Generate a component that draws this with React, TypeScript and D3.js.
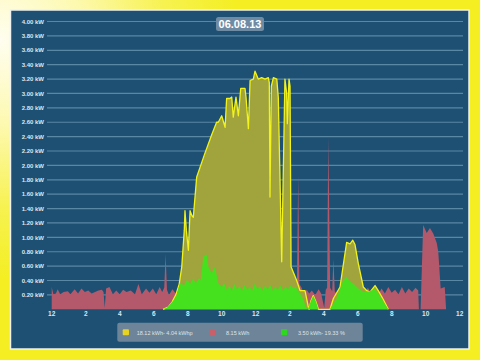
import * as d3 from "d3";
import { useEffect, useRef } from "react";

type Pt = [number, number]; // [hour of day, kW]

const Y_TICKS = [0.2, 0.4, 0.6, 0.8, 1.0, 1.2, 1.4, 1.6, 1.8, 2.0, 2.2, 2.4, 2.6, 2.8, 3.0, 3.2, 3.4, 3.6, 3.8, 4.0];
const X_TICKS = [0, 2, 4, 6, 8, 10, 12, 14, 16, 18, 20, 22, 24];
const X_LABELS = ["12", "2", "4", "6", "8", "10", "12", "2", "4", "6", "8", "10", "12"];

const TITLE = "06.08.13";

// consumption
const consumption: Pt[] = [
  [0, 0.31], [0.1, 0.21], [0.25, 0.22], [0.35, 0.28], [0.5, 0.21], [0.7, 0.24], [0.95, 0.25],
  [1.1, 0.21], [1.35, 0.28], [1.55, 0.22], [1.75, 0.29], [1.95, 0.24], [2.15, 0.26], [2.35, 0.22],
  [2.55, 0.24], [2.75, 0.26], [2.95, 0.27], [3.05, 0.24], [3.12, 0.02], [3.2, 0.29], [3.4, 0.31],
  [3.6, 0.21], [3.8, 0.26], [4.0, 0.21], [4.2, 0.27], [4.4, 0.24], [4.65, 0.26], [4.9, 0.21],
  [5.1, 0.35], [5.3, 0.21], [5.55, 0.29], [5.75, 0.23], [5.95, 0.29], [6.15, 0.21], [6.35, 0.31],
  [6.5, 0.24], [6.62, 0.3], [6.7, 0.77], [6.78, 0.27], [6.9, 0.2], [7.1, 0.28], [7.3, 0.22],
  [7.5, 0.27], [7.7, 0.24], [8.5, 0.26], [10, 0.25], [12, 0.26], [14.3, 0.25], [14.42, 0.3],
  [14.5, 1.86], [14.57, 0.35], [14.7, 0.3], [14.85, 0.2], [15.0, 0.27], [15.15, 0.22], [15.3, 0.26],
  [15.5, 0.2], [15.7, 0.28], [15.85, 0.22], [16.03, 0.02], [16.12, 0.27], [16.2, 0.3], [16.27, 2.39],
  [16.38, 0.3], [16.5, 0.25], [16.57, 0.7], [16.65, 0.25], [16.8, 0.2], [17.0, 0.27], [17.2, 0.22],
  [17.4, 0.28], [17.6, 0.21], [17.8, 0.26], [18.0, 0.2], [18.2, 0.27], [18.4, 0.23], [18.6, 0.3],
  [18.8, 0.22], [19.0, 0.26], [19.2, 0.2], [19.4, 0.29], [19.6, 0.22], [19.8, 0.31], [20.0, 0.23],
  [20.2, 0.27], [20.4, 0.21], [20.6, 0.31], [20.8, 0.22], [21.0, 0.29], [21.2, 0.24], [21.4, 0.3],
  [21.56, 0.26], [21.6, 0], [21.7, 0], [21.85, 1.17], [22.06, 1.06], [22.25, 1.13], [22.45, 1.05],
  [22.65, 0.92], [22.74, 0.8], [22.88, 0.29], [23.0, 0.3], [23.12, 0.31], [23.2, 0], [24, 0],
];

// production
const production: Pt[] = [
  [6.55, 0], [6.85, 0.03], [7.08, 0.1], [7.3, 0.2], [7.5, 0.35], [7.65, 0.59], [7.8, 1.1],
  [7.84, 1.37], [7.92, 1.1], [8.04, 0.82], [8.1, 1.15], [8.14, 1.37], [8.25, 1.3], [8.33, 1.28],
  [8.53, 1.84], [9.0, 2.16], [9.4, 2.42], [9.7, 2.6], [9.8, 2.6], [10.0, 2.69], [10.2, 2.53],
  [10.29, 2.93], [10.49, 2.93], [10.59, 2.95], [10.68, 2.67], [10.84, 2.95], [10.98, 2.69],
  [11.12, 3.07], [11.37, 3.07], [11.43, 2.95], [11.57, 2.51], [11.67, 3.18], [11.86, 3.2],
  [11.96, 3.31], [12.15, 3.2], [12.35, 3.22], [12.55, 3.2], [12.74, 3.22], [12.8, 3.15],
  [12.84, 1.56], [12.92, 3.1], [13.04, 3.22], [13.24, 3.2], [13.33, 2.94], [13.53, 0.66],
  [13.72, 3.2], [13.82, 3.0], [13.86, 2.58], [13.96, 3.2], [14.02, 3.1], [14.08, 0.59],
  [14.41, 0.4], [14.61, 0.26], [14.9, 0.26], [15.08, 0.05], [15.14, 0], [15.25, 0.12],
  [15.39, 0.19], [15.55, 0.1], [15.69, 0], [16.37, 0], [16.57, 0.15], [16.96, 0.31],
  [17.35, 0.93], [17.55, 0.91], [17.71, 0.96], [17.84, 0.9], [18.04, 0.63], [18.33, 0.31],
  [18.53, 0.26], [18.72, 0.24], [19.02, 0.33], [19.21, 0.26], [19.5, 0.14], [19.8, 0],
];

// self-consumption
const selfUse: Pt[] = [
  [6.55, 0], [6.78, 0.02], [7.15, 0.12], [7.35, 0.2], [7.55, 0.37], [7.78, 0.33], [7.96, 0.41],
  [8.14, 0.36], [8.31, 0.42], [8.49, 0.37], [8.66, 0.43], [8.76, 0.4], [8.92, 0.73], [9.12, 0.76],
  [9.22, 0.59], [9.41, 0.5], [9.61, 0.59], [9.8, 0.36], [10.0, 0.31], [10.15, 0.36], [10.3, 0.27],
  [10.45, 0.33], [10.6, 0.26], [10.75, 0.35], [10.9, 0.28], [11.05, 0.32], [11.2, 0.26],
  [11.35, 0.34], [11.5, 0.27], [11.65, 0.31], [11.8, 0.26], [11.95, 0.36], [12.1, 0.28],
  [12.25, 0.32], [12.4, 0.26], [12.55, 0.33], [12.7, 0.27], [12.85, 0.34], [13.0, 0.26],
  [13.15, 0.31], [13.3, 0.27], [13.45, 0.33], [13.6, 0.26], [13.75, 0.31], [13.9, 0.28],
  [14.05, 0.33], [14.2, 0.3], [14.35, 0.31], [14.5, 0.26], [14.61, 0.22], [14.8, 0.14],
  [14.95, 0.03], [15.08, 0], [15.25, 0.12], [15.39, 0.19], [15.55, 0.1], [15.69, 0],
  [16.37, 0], [16.76, 0.15], [17.15, 0.41], [17.35, 0.45], [17.55, 0.39], [17.74, 0.36],
  [18.04, 0.29], [18.33, 0.24], [18.72, 0.25], [19.02, 0.29], [19.31, 0.18], [19.8, 0],
];

const LEGEND = [
  { label: "18.12 kWh- 4.04 kWhp", color: "#e8d222" },
  { label: "8.15 kWh", color: "#c8606c" },
  { label: "3.50 kWh- 19.33 %", color: "#2ed81e" },
];

const FONT = "'Liberation Sans', Arial, sans-serif";

export default function App() {
  const svgRef = useRef<SVGSVGElement>(null);

  useEffect(() => {
    if (!svgRef.current) return;
    const svg = d3.select(svgRef.current);
    svg.selectAll("*").remove();

    const width = 480;
    const height = 360;

    // background glow, top-left
    const defs = svg.append("defs");
    const glow = defs
      .append("radialGradient")
      .attr("id", "glow")
      .attr("gradientUnits", "userSpaceOnUse")
      .attr("cx", 0)
      .attr("cy", 40)
      .attr("r", 240);
    glow.append("stop").attr("offset", "0%").attr("stop-color", "#fffef0");
    glow.append("stop").attr("offset", "35%").attr("stop-color", "#fdf9b0");
    glow.append("stop").attr("offset", "70%").attr("stop-color", "#f7f250");
    glow.append("stop").attr("offset", "100%").attr("stop-color", "#f4ee22");

    svg.append("rect").attr("width", width).attr("height", height).style("fill", "#f4ee22");
    svg.append("rect").attr("width", width).attr("height", height).style("fill", "url(#glow)");

    // panel
    svg
      .append("rect")
      .attr("x", 10.5)
      .attr("y", 10)
      .attr("width", 458.5)
      .attr("height", 339)
      .style("fill", "#1e5073")
      .style("stroke", "#eef2f0")
      .style("stroke-width", 1.5);

    const x = d3.scaleLinear().domain([0, 24]).range([51.7, 459.7]);
    const y = d3.scaleLinear().domain([0, 4]).range([309.3, 21.5]);

    // grid
    svg
      .append("g")
      .selectAll("line")
      .data(Y_TICKS)
      .join("line")
      .attr("x1", 47)
      .attr("x2", 463)
      .attr("y1", (d) => y(d))
      .attr("y2", (d) => y(d))
      .style("stroke", "#5a87a4")
      .style("stroke-width", 1.2);

    svg
      .append("g")
      .selectAll("text")
      .data(Y_TICKS)
      .join("text")
      .attr("x", 44)
      .attr("y", (d) => y(d) + 2.2)
      .attr("text-anchor", "end")
      .style("font-family", FONT)
      .style("font-size", "6px")
      .style("font-weight", "bold")
      .style("fill", "#dfe7ee")
      .text((d) => `${d.toFixed(2)} kW`);

    svg
      .append("g")
      .selectAll("text")
      .data(X_TICKS)
      .join("text")
      .attr("x", (d) => x(d))
      .attr("y", 316)
      .attr("text-anchor", "middle")
      .style("font-family", FONT)
      .style("font-size", "6.5px")
      .style("font-weight", "bold")
      .style("fill", "#dfe7ee")
      .text((_, i) => X_LABELS[i]);

    const area = d3
      .area<Pt>()
      .x((d) => x(d[0]))
      .y0(y(0))
      .y1((d) => y(d[1]));
    const line = d3
      .line<Pt>()
      .x((d) => x(d[0]))
      .y((d) => y(d[1]));

    svg.append("path").datum(consumption).attr("d", area).style("fill", "#b3596b");

    svg.append("path").datum(production).attr("d", area).style("fill", "#a1a43c");
    svg
      .append("path")
      .datum(production)
      .attr("d", line)
      .style("fill", "none")
      .style("stroke", "#f2f21c")
      .style("stroke-width", 1.3)
      .style("stroke-linejoin", "round");

    svg.append("path").datum(selfUse).attr("d", area).style("fill", "#45e01e");

    // title
    svg
      .append("rect")
      .attr("x", 216)
      .attr("y", 17)
      .attr("width", 48)
      .attr("height", 14)
      .attr("rx", 2.5)
      .style("fill", "#6f8ba4");
    svg
      .append("text")
      .attr("x", 240)
      .attr("y", 27.6)
      .attr("text-anchor", "middle")
      .style("font-family", FONT)
      .style("font-size", "11px")
      .style("font-weight", "bold")
      .style("fill", "#ffffff")
      .text(TITLE);

    // legend
    svg
      .append("rect")
      .attr("x", 117.3)
      .attr("y", 322.7)
      .attr("width", 245.4)
      .attr("height", 19)
      .attr("rx", 2)
      .style("fill", "#6e8499");

    const legendX = [122.7, 209, 281];
    const textOffset = [14, 17, 17];
    LEGEND.forEach((item, i) => {
      const g = svg.append("g").attr("transform", `translate(${legendX[i]},329.3)`);
      g.append("rect")
        .attr("width", 6.3)
        .attr("height", 6)
        .attr("rx", 1)
        .style("fill", item.color);
      g.append("text")
        .attr("x", textOffset[i])
        .attr("y", 5.3)
        .style("font-family", FONT)
        .style("font-size", "5.5px")
        .style("fill", "#dde4ea")
        .text(item.label);
    });
  }, []);

  return (
    <svg
      ref={svgRef}
      width={480}
      height={360}
      style={{ position: "fixed", left: 0, top: 0, display: "block" }}
    />
  );
}
